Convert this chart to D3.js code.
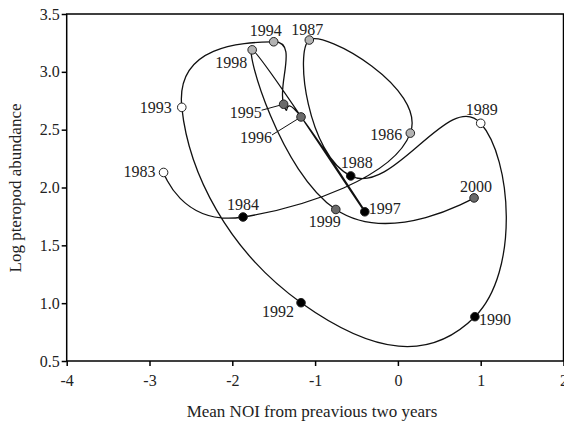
<!DOCTYPE html>
<html>
<head>
<meta charset="utf-8">
<script src="https://cdn.jsdelivr.net/npm/d3@7"></script>
<style>
  html, body { margin: 0; padding: 0; background: #fff; }
  svg { display: block; }
  svg text { font-family: "Liberation Serif", "Times New Roman", "DejaVu Serif", serif; }
</style>
</head>
<body>
<svg id="chart" width="564" height="426"></svg>
<script>
// Pteropod abundance against the mean NOI of the two preceding years
const years = [1983, 1984, 1986, 1987, 1988, 1989, 1990, 1992, 1993, 1994, 1995, 1996, 1997, 1998, 1999, 2000];
const meanNOI = [-2.83, -1.87, 0.15, -1.07, -0.57, 1.00, 0.93, -1.17, -2.61, -1.50, -1.38, -1.17, -0.40, -1.76, -0.75, 0.92];
const logAbundance = [2.13, 1.745, 2.47, 3.275, 2.10, 2.555, 0.883, 1.004, 2.693, 3.26, 2.72, 2.61, 1.79, 3.19, 1.81, 1.91];
// point shading class per year
const shade = ["open", "black", "light", "light", "black", "open", "black", "black", "open", "light", "dark", "dark", "black", "light", "dark", "dark"];

const xTicks = [-4, -3, -2, -1, 0, 1, 2];
const yTicks = [0.5, 1.0, 1.5, 2.0, 2.5, 3.0, 3.5];

// fill colours for the shading classes
const fills = { open: "#ffffff", black: "#000000", light: "#b3b3b3", dark: "#6a6a6a" };

// label placement around each point: [dx, dy, anchor]
const labelPlace = {
  1983: [-8, 5, "end"],
  1984: [0, -7, "middle"],
  1986: [-8, 7, "end"],
  1987: [-2, -5, "middle"],
  1988: [6, -8, "middle"],
  1989: [1, -8, "middle"],
  1990: [4, 8, "start"],
  1992: [-7, 14, "end"],
  1993: [-10, 6, "end"],
  1994: [-8, -6, "middle"],
  1995: [-22, 14, "end"],
  1996: [-29, 26, "end"],
  1997: [4, 2, "start"],
  1998: [-5, 18, "end"],
  1999: [-11, 18, "middle"],
  2000: [2, -6, "middle"]
};
// leader lines from label to point
const leaders = { 1995: [-22, 6], 1996: [-29, 18] };

const W = 564, H = 426;
const margin = { left: 66.7, right: 0.5, top: 14, bottom: 65 };

const svg = d3.select("#chart");

const x = d3.scaleLinear().domain([-4, 2]).range([margin.left, W - margin.right]);
const y = d3.scaleLinear().domain([0.5, 3.5]).range([H - margin.bottom, margin.top]);

const pts = years.map((yr, i) => ({ year: yr, x: meanNOI[i], y: logAbundance[i], shade: shade[i] }));

// smoothed trajectory through the years in order
const line = d3.line()
  .x(d => x(d.x))
  .y(d => y(d.y))
  .curve(d3.curveCardinal.tension(-0.5));

svg.append("path")
  .datum(pts)
  .attr("d", line)
  .attr("fill", "none")
  .attr("stroke", "#111")
  .attr("stroke-width", 1.3);

// axes
const xAxis = d3.axisBottom(x).tickValues(xTicks).tickSize(5).tickSizeOuter(0)
  .tickFormat(d => String(d));
const yAxis = d3.axisLeft(y).tickValues(yTicks).tickSize(5).tickSizeOuter(0)
  .tickFormat(d3.format(".1f"));

const gx = svg.append("g").attr("transform", `translate(0,${y(0.5)})`).call(xAxis);
const gy = svg.append("g").attr("transform", `translate(${x(-4)},0)`).call(yAxis);

[gx, gy].forEach(g => {
  g.attr("font-family", null);
  g.select(".domain").remove();
  g.selectAll(".tick line").attr("stroke", "#000").attr("stroke-width", 1.5);
  g.selectAll(".tick text")
    .attr("fill", "#222")
    .style("font-family", "'Liberation Serif', 'Times New Roman', 'DejaVu Serif', serif")
    .style("font-size", "16px");
});
gx.selectAll(".tick text").attr("dy", "0.71em").attr("y", 14);
gy.selectAll(".tick text").attr("x", -7);

// plot frame
svg.append("rect")
  .attr("x", x(-4))
  .attr("y", y(3.5))
  .attr("width", x(2) - x(-4))
  .attr("height", y(0.5) - y(3.5))
  .attr("fill", "none")
  .attr("stroke", "#000")
  .attr("stroke-width", 1.5);

// leader lines
Object.keys(leaders).forEach(k => {
  const p = pts.find(d => d.year === +k);
  const [lx, ly] = leaders[k];
  svg.append("line")
    .attr("x1", x(p.x) + lx).attr("y1", y(p.y) + ly)
    .attr("x2", x(p.x)).attr("y2", y(p.y))
    .attr("stroke", "#111").attr("stroke-width", 1);
});

// year markers
svg.append("g").selectAll("circle")
  .data(pts)
  .join("circle")
  .attr("cx", d => x(d.x))
  .attr("cy", d => y(d.y))
  .attr("r", 4.3)
  .attr("fill", d => fills[d.shade])
  .attr("stroke", "#222")
  .attr("stroke-width", 1);

// year labels
svg.append("g").selectAll("text")
  .data(pts)
  .join("text")
  .attr("x", d => x(d.x) + labelPlace[d.year][0])
  .attr("y", d => y(d.y) + labelPlace[d.year][1])
  .attr("text-anchor", d => labelPlace[d.year][2])
  .attr("fill", "#222")
  .style("font-size", "16px")
  .text(d => d.year);

// axis titles
svg.append("text")
  .attr("x", 312)
  .attr("y", 417)
  .attr("text-anchor", "middle")
  .attr("fill", "#222")
  .style("font-size", "17px")
  .text("Mean NOI from preavious two years");

svg.append("text")
  .attr("transform", "translate(21,188) rotate(-90)")
  .attr("text-anchor", "middle")
  .attr("fill", "#222")
  .style("font-size", "17px")
  .text("Log pteropod abundance");
</script>
</body>
</html>
